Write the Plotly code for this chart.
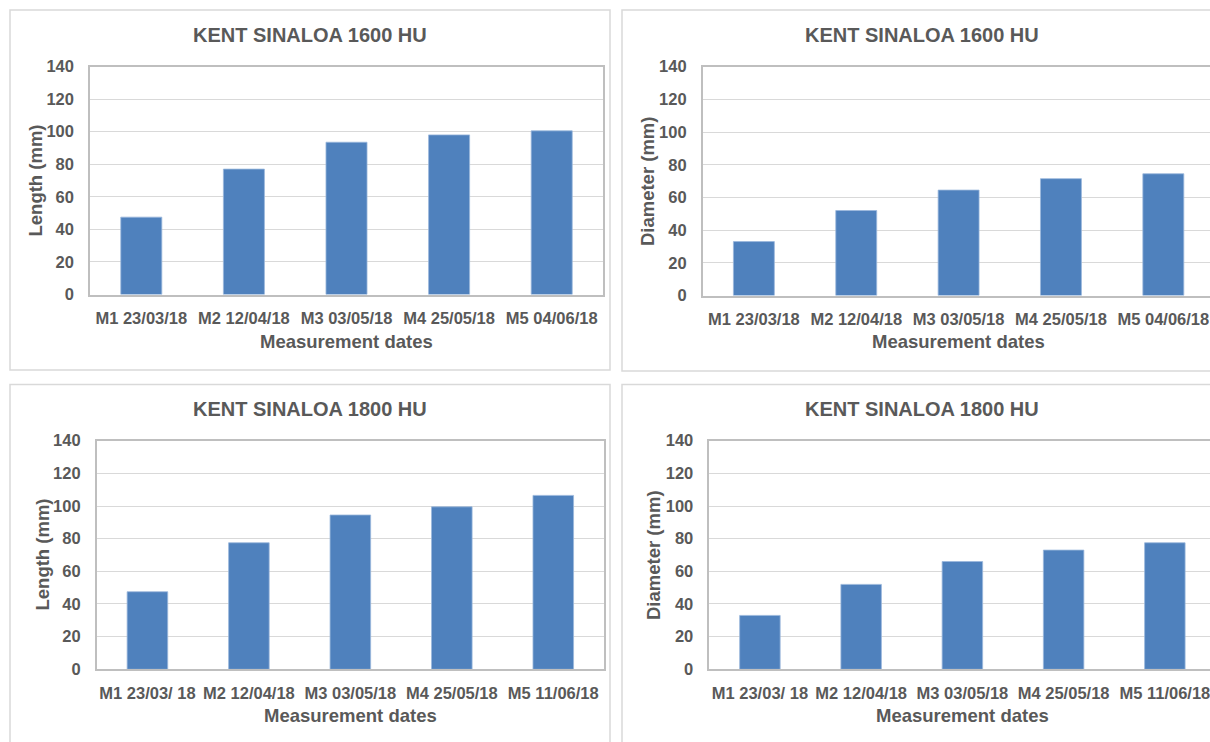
import plotly.graph_objects as go

# ---- data ----
cats_1600 = ["M1 23/03/18", "M2 12/04/18", "M3 03/05/18", "M4 25/05/18", "M5 04/06/18"]
cats_1800 = ["M1 23/03/ 18", "M2 12/04/18", "M3 03/05/18", "M4 25/05/18", "M5 11/06/18"]
length_1600 = [47.5, 77, 93.5, 98, 100.5]
diameter_1600 = [33, 52, 64.5, 71.5, 74.5]
length_1800 = [47.5, 77.5, 94.5, 99.5, 106.5]
diameter_1800 = [33, 52, 66, 73, 77.5]
title_1600 = "KENT SINALOA 1600 HU"
title_1800 = "KENT SINALOA 1800 HU"
y_ticks = [0, 20, 40, 60, 80, 100, 120, 140]

W, H = 1210, 742
TXT = "#595959"
BAR = "#4F81BD"
FONT = "Liberation Sans"

def px(x):
    return x / W

def py(y):
    return 1 - y / H

# panel definitions (pixel geometry)
panels = [
    dict(cats=cats_1600, vals=length_1600, title=title_1600, ytitle="Length (mm)",
         box=(10, 10, 610, 370), plot=(90, 66.5, 603, 294.5), xr=[-0.5, 4.5],
         title_y=35, ytitle_x=35, xlab_y=341),
    dict(cats=cats_1600, vals=diameter_1600, title=title_1600, ytitle="Diameter (mm)",
         box=(622, 10, 1222, 371), plot=(702.7, 66.7, 1210, 295.5), xr=[-0.5, 4.456],
         title_y=35, ytitle_x=647, xlab_y=341.5),
    dict(cats=cats_1800, vals=length_1800, title=title_1800, ytitle="Length (mm)",
         box=(10, 384.5, 610, 760), plot=(96.7, 440.7, 604, 669.3), xr=[-0.5, 4.5],
         title_y=409, ytitle_x=41.5, xlab_y=715),
    dict(cats=cats_1800, vals=diameter_1800, title=title_1800, ytitle="Diameter (mm)",
         box=(622, 384.5, 1222, 760), plot=(709.3, 440.7, 1210, 669.3), xr=[-0.5, 4.446],
         title_y=409, ytitle_x=653, xlab_y=715.5),
]

fig = go.Figure()
shapes = []
annotations = []
layout_axes = {}

for i, p in enumerate(panels, start=1):
    xa = "x" if i == 1 else f"x{i}"
    ya = "y" if i == 1 else f"y{i}"
    fig.add_trace(go.Bar(
        x=p["cats"], y=p["vals"], xaxis=xa, yaxis=ya, width=0.4,
        marker=dict(color=BAR, line=dict(color="#9bb7dc", width=0.8)),
        showlegend=False, hoverinfo="x+y",
    ))
    x0, y0, x1, y1 = p["plot"]
    layout_axes["xaxis" if i == 1 else f"xaxis{i}"] = dict(
        domain=[px(x0), px(x1)], anchor=ya, type="category", range=p["xr"],
        automargin=False,
        showgrid=False, showline=True, linecolor="#bfbfbf", linewidth=1.5, mirror=True,
        ticks="", tickfont=dict(family=FONT, size=16.5, color=TXT, weight="bold"),
        ticklabelstandoff=8, fixedrange=True,
    )
    layout_axes["yaxis" if i == 1 else f"yaxis{i}"] = dict(
        domain=[py(y1), py(y0)], anchor=xa, range=[0, 140], tickvals=y_ticks,
        automargin=False,
        showgrid=True, gridcolor="#d9d9d9", gridwidth=1.2, zeroline=False,
        showline=True, linecolor="#bfbfbf", linewidth=1.5, mirror=True,
        ticks="", tickfont=dict(family=FONT, size=16.5, color=TXT, weight="bold"),
        ticklabelstandoff=11, fixedrange=True,
    )
    bx0, by0, bx1, by1 = p["box"]
    shapes.append(dict(type="rect", xref="paper", yref="paper",
                       x0=px(bx0), x1=px(bx1), y0=py(by1), y1=py(by0),
                       line=dict(color="#d9d9d9", width=1.5), layer="below"))
    annotations.append(dict(text=f"<b>{p['title']}</b>", xref="paper", yref="paper",
                            x=px((bx0 + bx1) / 2), y=py(p["title_y"]), showarrow=False,
                            xanchor="center", yanchor="middle",
                            font=dict(family=FONT, size=20, color=TXT)))
    annotations.append(dict(text=f"<b>{p['ytitle']}</b>", xref="paper", yref="paper",
                            x=px(p["ytitle_x"]), y=py((y0 + y1) / 2), showarrow=False,
                            xanchor="center", yanchor="middle", textangle=-90,
                            font=dict(family=FONT, size=18.5, color=TXT)))
    annotations.append(dict(text="<b>Measurement dates</b>", xref="paper", yref="paper",
                            x=px((x0 + (x0 + (x1 - x0) * 5 / (p["xr"][1] + 0.5))) / 2),
                            y=py(p["xlab_y"]), showarrow=False,
                            xanchor="center", yanchor="middle",
                            font=dict(family=FONT, size=18.5, color=TXT)))

fig.update_layout(
    width=W, height=H, margin=dict(l=0, r=0, t=0, b=0, autoexpand=False),
    paper_bgcolor="white", plot_bgcolor="white",
    shapes=shapes, annotations=annotations, bargap=0.6,
    **layout_axes,
)

fig.write_html(
    "out.html",
    config={"displayModeBar": False},
    post_script="document.documentElement.style.margin='0';document.body.style.margin='0';"
                "document.body.style.overflow='hidden';"
                "var gd=document.getElementById('{plot_id}');"
                "gd.style.position='fixed';gd.style.top='0px';gd.style.left='0px';",
)
